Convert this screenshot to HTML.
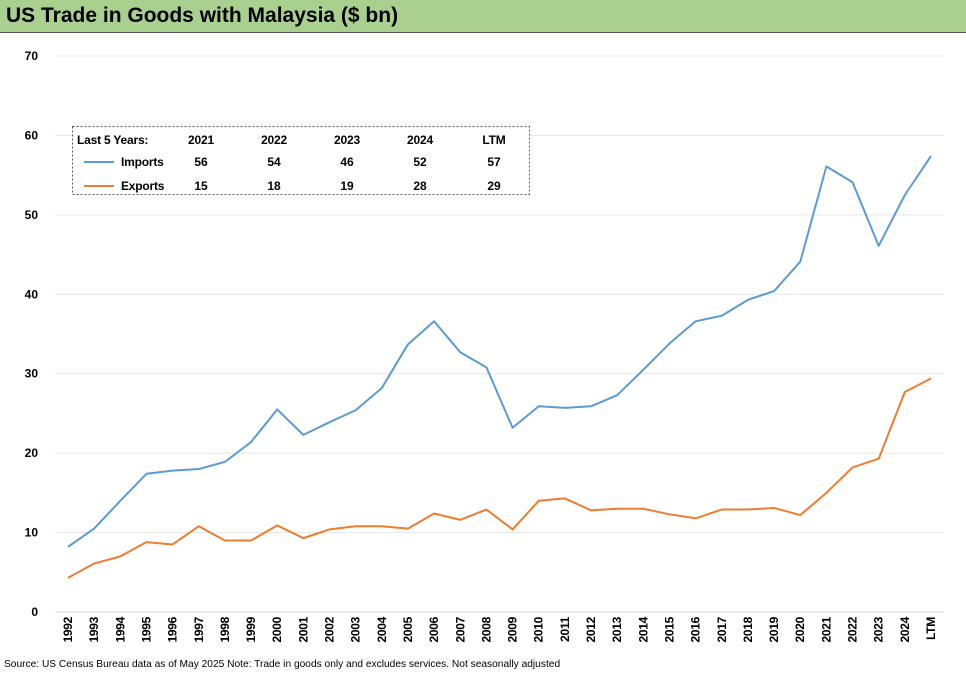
<!DOCTYPE html>
<html><head><meta charset="utf-8"><style>
body{margin:0;width:966px;height:674px;background:#fff;font-family:"Liberation Sans",Arial,sans-serif;overflow:hidden;position:relative}
#title{position:absolute;left:0;top:0;width:966px;height:32px;background:#a9d08e;border-bottom:1px solid #555;}
#title span{position:absolute;left:6px;top:4px;font-size:21px;font-weight:bold;color:#000}
#src{position:absolute;left:4px;top:659px;font-size:10.2px;color:#000}
svg{position:absolute;left:0;top:0}
</style></head><body>
<div id="title"><span>US Trade in Goods with Malaysia ($ bn)</span></div>
<svg id="chart" width="966" height="674"></svg>
<div id="src">Source: US Census Bureau data as of May 2025 Note: Trade in goods only and excludes services. Not seasonally adjusted</div>
<script>
const categories=["1992","1993","1994","1995","1996","1997","1998","1999","2000","2001","2002","2003","2004","2005","2006","2007","2008","2009","2010","2011","2012","2013","2014","2015","2016","2017","2018","2019","2020","2021","2022","2023","2024","LTM"];
const imports=[8.2,10.5,14,17.4,17.8,18.0,18.9,21.4,25.5,22.3,23.9,25.4,28.2,33.7,36.6,32.7,30.8,23.2,25.9,25.7,25.9,27.3,30.5,33.8,36.6,37.3,39.3,40.4,44.1,56.1,54.1,46.1,52.5,57.4];
const exports_=[4.3,6.1,7.0,8.8,8.5,10.8,9.0,9.0,10.9,9.3,10.4,10.8,10.8,10.5,12.4,11.6,12.9,10.4,14.0,14.3,12.8,13.0,13.0,12.3,11.8,12.9,12.9,13.1,12.2,15.0,18.2,19.3,27.7,29.4];
const yTicks=[0,10,20,30,40,50,60,70];
const legendHeader=["Last 5 Years:","2021","2022","2023","2024","LTM"];
const legendImports=["56","54","46","52","57"];
const legendExports=["15","18","19","28","29"];
const svg=document.getElementById('chart');
const NS="http://www.w3.org/2000/svg";
const x0=68,x1=931,yb=612,yt=56;
const xs=i=>x0+(x1-x0)*i/(categories.length-1);
const ys=v=>yb-(yb-yt)*v/70;
function mk(tag,attrs,txt){const e=document.createElementNS(NS,tag);for(const k in attrs)e.setAttribute(k,attrs[k]);if(txt!==undefined)e.textContent=txt;svg.appendChild(e);return e;}
yTicks.forEach(t=>{
 if(t>0){const g=mk('line',{x1:55,x2:944,y1:ys(t),y2:ys(t),stroke:'#e6e6e6','stroke-width':1});
 
 }
 const l=mk('text',{x:38,y:ys(t)+4,'text-anchor':'end','font-size':12,'font-weight':'bold',fill:'#000'},String(t));
 
 
});
const ax=mk('line',{x1:55,x2:944,y1:yb,y2:yb,stroke:'#d9d9d9','stroke-width':1});


categories.forEach((c,i)=>{
 const t=mk('text',{transform:`translate(${xs(i)+4},${617}) rotate(-90)`,'text-anchor':'end','font-size':12,'font-weight':'bold',fill:'#000','letter-spacing':'-0.3'},c);
 
 
});
function line(vals,color,name){
 const p=mk('polyline',{points:vals.map((v,i)=>xs(i)+','+ys(v)).join(' '),fill:'none',stroke:color,'stroke-width':2,'stroke-linejoin':'round'});
 
 
}
line(imports,'#5b9bd5','imports-line');
line(exports_,'#ed7d31','exports-line');
const box=mk('rect',{x:72.5,y:126.5,width:457,height:68,fill:'#fff',stroke:'#555','stroke-dasharray':'2,2'});


const colX=[77,201,274,347,420,494];
legendHeader.forEach((h,i)=>{
 const t=mk('text',{x:colX[i],y:144,'text-anchor':i==0?'start':'middle','font-size':12,'font-weight':'bold','letter-spacing':'-0.2'},h);
 
 
});
[[legendImports,'Imports','#5b9bd5',166],[legendExports,'Exports','#ed7d31',190]].forEach(([vals,lab,col,y])=>{
 const l=mk('line',{x1:84,x2:114,y1:y-4,y2:y-4,stroke:col,'stroke-width':2});
 
 
 const t=mk('text',{x:121,y:y,'font-size':12,'font-weight':'bold','letter-spacing':'-0.2'},lab);
 
 
 vals.forEach((v,i)=>{
  const tv=mk('text',{x:colX[i+1],y:y,'text-anchor':'middle','font-size':12,'font-weight':'bold'},v);
  
  
 });
});
</script>
</body></html>
